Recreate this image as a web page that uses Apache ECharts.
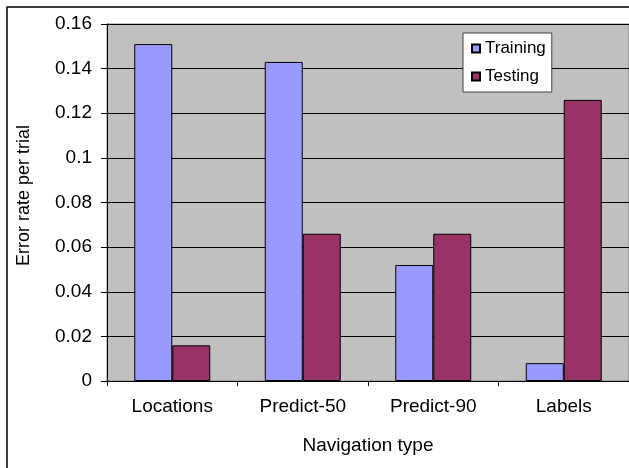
<!DOCTYPE html>
<html>
<head>
<meta charset="utf-8">
<script src="https://cdn.jsdelivr.net/npm/echarts@6/dist/echarts.min.js"></script>
<style>
  html, body { margin: 0; padding: 0; background: #fff; }
  #chart { width: 629px; height: 468px; }
</style>
</head>
<body>
<div id="chart"></div>
<script>
// Error rate per trial by navigation type
var categories = ['Locations', 'Predict-50', 'Predict-90', 'Labels'];
var trainingValues = [0.151, 0.143, 0.052, 0.008];
var testingValues = [0.016, 0.066, 0.066, 0.126];
var yTicks = { min: 0, max: 0.16, interval: 0.02 };

var FONT = 'Liberation Sans, Arial, sans-serif';

var chart = echarts.init(document.getElementById('chart'), null, { renderer: 'canvas' });

chart.setOption({
  animation: false,
  backgroundColor: '#ffffff',
  textStyle: { fontFamily: FONT, color: '#000' },
  graphic: [{
    type: 'rect',
    silent: true,
    z: 100,
    shape: { x: 7, y: 7, width: 700, height: 700 },
    style: { fill: 'none', stroke: '#000', lineWidth: 1.5 }
  }],
  grid: {
    left: 107,
    top: 24,
    width: 530,
    height: 357,
    show: true,
    backgroundColor: '#C0C0C0',
    borderColor: '#808080',
    borderWidth: 1
  },
  legend: {
    orient: 'vertical',
    left: 463,
    top: 33,
    padding: [7, 6, 7, 8],
    itemGap: 11,
    itemWidth: 8,
    itemHeight: 8,
    itemTextGap: 7,
    icon: 'rect',
    backgroundColor: '#ffffff',
    borderColor: '#404040',
    borderWidth: 1,
    textStyle: { fontFamily: FONT, fontSize: 17, color: '#000' },
    data: ['Training', 'Testing']
  },
  xAxis: {
    type: 'category',
    data: categories,
    name: 'Navigation type',
    nameLocation: 'middle',
    nameGap: 55,
    nameTextStyle: { fontFamily: FONT, fontSize: 19, color: '#000' },
    axisLine: { lineStyle: { color: '#000', width: 1 } },
    axisTick: { show: true, length: 5, lineStyle: { color: '#000' } },
    axisLabel: { fontFamily: FONT, fontSize: 19, color: '#000', margin: 16 },
    splitLine: { show: false }
  },
  yAxis: {
    type: 'value',
    min: yTicks.min,
    max: yTicks.max,
    interval: yTicks.interval,
    name: 'Error rate per trial',
    nameLocation: 'middle',
    nameGap: 74,
    nameRotate: 90,
    nameTextStyle: { fontFamily: FONT, fontSize: 18, color: '#000', padding: [0, 0, 0, 14] },
    axisLine: { show: true, lineStyle: { color: '#000', width: 1 } },
    axisTick: { show: true, length: 6, lineStyle: { color: '#000' } },
    axisLabel: { fontFamily: FONT, fontSize: 19, color: '#000', margin: 15 },
    splitLine: { show: true, lineStyle: { color: '#000', width: 1 } }
  },
  series: [
    {
      name: 'Training',
      type: 'bar',
      data: trainingValues,
      barWidth: 38,
      barGap: '0%',
      itemStyle: { color: '#9999FF', borderColor: '#000', borderWidth: 1 }
    },
    {
      name: 'Testing',
      type: 'bar',
      data: testingValues,
      barWidth: 38,
      barGap: '0%',
      itemStyle: { color: '#993366', borderColor: '#000', borderWidth: 1 }
    }
  ]
});
</script>
</body>
</html>
